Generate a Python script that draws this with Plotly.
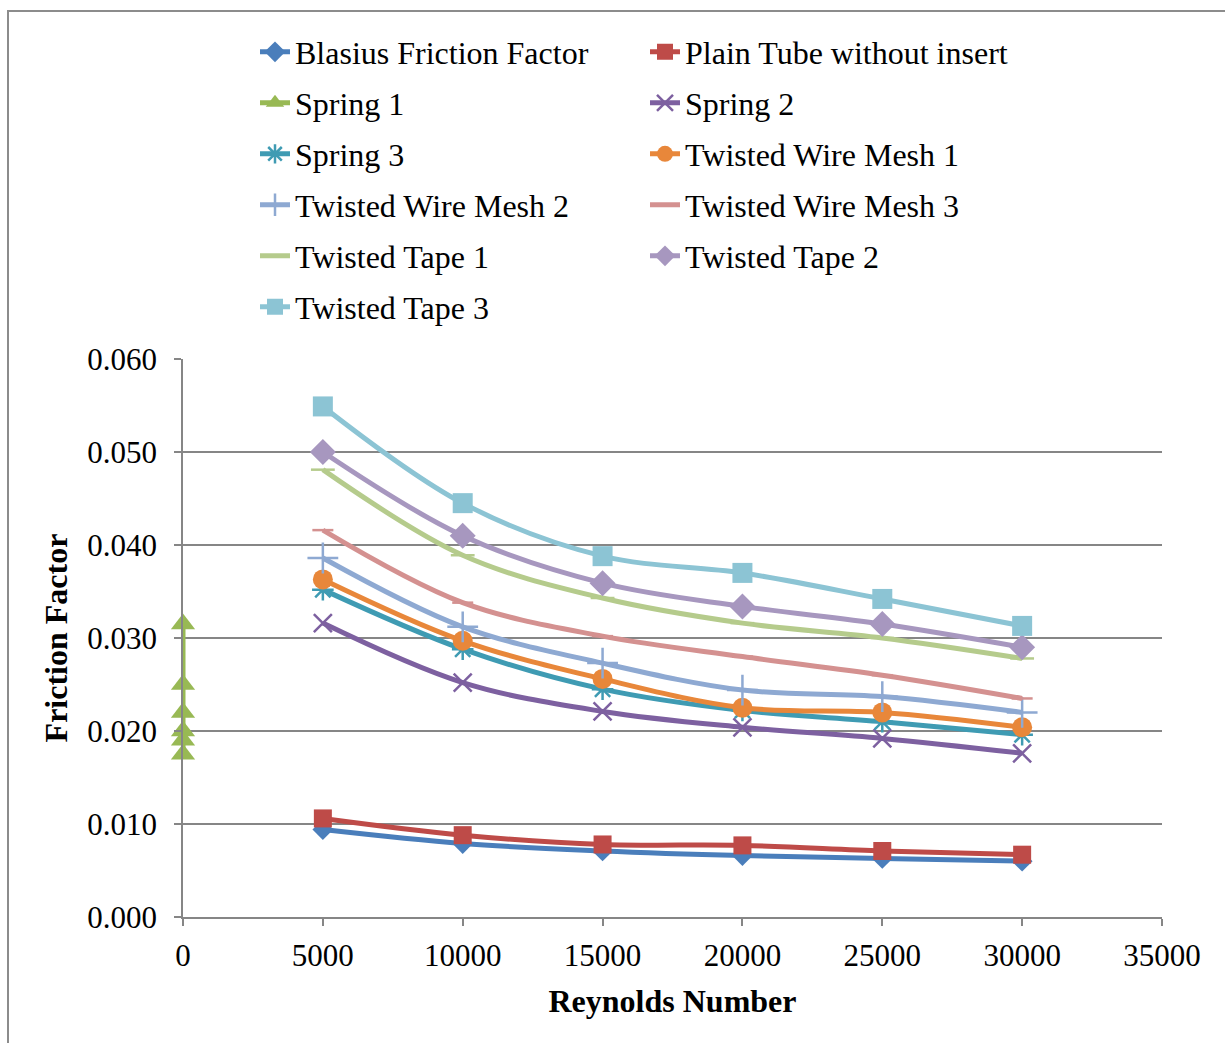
import plotly.graph_objects as go

reynolds = [5000, 10000, 15000, 20000, 25000, 30000]
spring1_x = [0, 0, 0, 0, 0, 0]

blasius = [0.0094, 0.0079, 0.0071, 0.0066, 0.0063, 0.0060]
plain_tube = [0.0106, 0.0088, 0.0078, 0.0077, 0.0071, 0.0067]
spring1 = [0.0315, 0.0250, 0.0220, 0.0200, 0.0190, 0.0175]
spring2 = [0.0316, 0.0252, 0.0221, 0.0204, 0.0192, 0.0176]
spring3 = [0.0352, 0.0288, 0.0245, 0.0222, 0.0210, 0.0196]
twm1 = [0.0363, 0.0297, 0.0256, 0.0225, 0.0220, 0.0204]
twm2 = [0.0386, 0.0312, 0.0273, 0.0244, 0.0237, 0.0220]
twm3 = [0.0416, 0.0338, 0.0302, 0.0280, 0.0260, 0.0235]
tt1 = [0.0481, 0.0389, 0.0343, 0.0316, 0.0300, 0.0278]
tt2 = [0.0500, 0.0410, 0.0359, 0.0334, 0.0315, 0.0290]
tt3 = [0.0549, 0.0445, 0.0388, 0.0370, 0.0342, 0.0313]

x_ticks = [0, 5000, 10000, 15000, 20000, 25000, 30000, 35000]
y_ticks = [0.0, 0.01, 0.02, 0.03, 0.04, 0.05, 0.06]
y_tick_labels = ["0.000", "0.010", "0.020", "0.030", "0.040", "0.050", "0.060"]

FONT = "Liberation Serif"

series = [
    ("Blasius Friction Factor", reynolds, blasius, "#4A7EBB", "diamond", 16, "legend"),
    ("Plain Tube without insert", reynolds, plain_tube, "#BE4B48", "square", 18, "legend"),
    ("Spring 1", spring1_x, spring1, "#98B954", "triangle-up", 21, "legend2"),
    ("Spring 2", reynolds, spring2, "#7D60A0", "x-thin-open", 18, "legend2"),
    ("Spring 3", reynolds, spring3, "#3F9BB3", "asterisk-open", 18, "legend3"),
    ("Twisted Wire Mesh 1", reynolds, twm1, "#E8873A", "circle", 20, "legend3"),
    ("Twisted Wire Mesh 2", reynolds, twm2, "#8EA9D2", "cross-thin-open", 22, "legend4"),
    ("Twisted Wire Mesh 3", reynolds, twm3, "#D49190", "line-ew-open", 15, "legend4"),
    ("Twisted Tape 1", reynolds, tt1, "#B5CB8C", "line-ew-open", 17, "legend5"),
    ("Twisted Tape 2", reynolds, tt2, "#A797BF", "diamond", 20, "legend5"),
    ("Twisted Tape 3", reynolds, tt3, "#8CC4D4", "square", 20, "legend6"),
]

fig = go.Figure()
for name, xs, ys, color, sym, size, lg in series:
    open_sym = sym.endswith("open")
    fig.add_trace(go.Scatter(
        x=xs, y=ys, name=name, mode="lines+markers",
        line=dict(color=color, width=5, shape="linear" if name == "Spring 1" else "spline"),
        marker=dict(symbol=sym, size=size, color=color,
                    line=dict(color=color, width=2.5 if open_sym else 0)),
        cliponaxis=False, legend=lg,
    ))

# layout geometry
W, H = 1225, 1043
L, R, T, B = 183, 1162, 359, 917
pw, ph = R - L, B - T

def px(xp):
    return (xp - L) / pw

def py(yp):
    return (B - yp) / ph

fig.update_layout(
    width=W, height=H,
    margin=dict(l=L, r=W - R, t=T, b=H - B, autoexpand=False),
    paper_bgcolor="white", plot_bgcolor="white",
    font=dict(family=FONT, size=31, color="black"),
    xaxis=dict(
        range=[0, 35000], tickvals=x_ticks, ticktext=[str(v) for v in x_ticks],
        showgrid=False, zeroline=False, showline=True, linecolor="#868686", linewidth=1.5,
        ticks="outside", ticklen=7, tickcolor="#868686", tickwidth=1.5,
        ticklabelstandoff=3,
        tickfont=dict(family=FONT, size=31, color="black"),
        title=dict(text="<b>Reynolds Number</b>", font=dict(family=FONT, size=32, color="black"), standoff=18),
    ),
    yaxis=dict(
        range=[0, 0.06], tickvals=y_ticks, ticktext=y_tick_labels,
        showgrid=True, gridcolor="#868686", gridwidth=1.5,
        zeroline=False, showline=True, linecolor="#868686", linewidth=1.5,
        ticks="outside", ticklen=7, tickcolor="#868686", tickwidth=1.5,
        ticklabelstandoff=11,
        tickfont=dict(family=FONT, size=31, color="black"),
        title=dict(text="<b>Friction Factor</b>", font=dict(family=FONT, size=32, color="black"), standoff=10),
    ),
    showlegend=True,
    shapes=[dict(type="rect", xref="paper", yref="paper",
                 x0=px(8), x1=px(1240), y0=py(1060), y1=py(11),
                 line=dict(color="#8C8C8C", width=2), fillcolor="rgba(0,0,0,0)", layer="below")],
)

legend_rows = [52, 103, 154, 205, 256, 307]
for i, yrow in enumerate(legend_rows):
    key = "legend" if i == 0 else f"legend{i+1}"
    fig.layout[key] = go.layout.Legend(
        orientation="h", x=px(255), xanchor="left", y=py(yrow), yanchor="middle",
        entrywidth=345, entrywidthmode="pixels",
        font=go.layout.legend.Font(family=FONT, size=32, color="black"),
        bgcolor="rgba(0,0,0,0)", itemwidth=30,
    )

fig.write_html("out.html")
